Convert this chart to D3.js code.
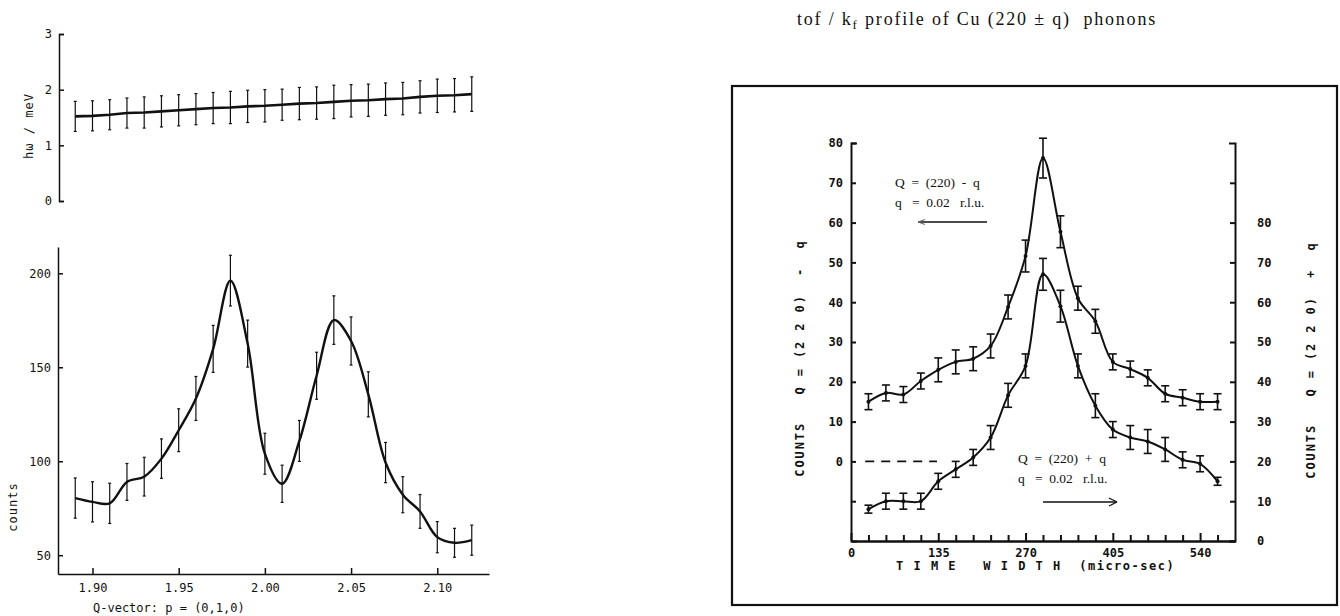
<!DOCTYPE html>
<html>
<head>
<meta charset="utf-8">
<script src="https://cdn.jsdelivr.net/npm/d3@7/dist/d3.min.js"></script>
<style>
  body { margin: 0; background: #fff; }
  svg text { font-family: "DejaVu Sans Mono", "Liberation Mono", monospace; fill: #111; }
  .serif { font-family: "Liberation Serif", "DejaVu Serif", serif !important; }
</style>
</head>
<body>
<svg id="chart" width="1340" height="616"></svg>
<script>
// ---- Q scan along (0,1,0): phonon energy and scattered counts ----
const qVector   = [1.89, 1.90, 1.91, 1.92, 1.93, 1.94, 1.95, 1.96, 1.97, 1.98, 1.99, 2.00,
                   2.01, 2.02, 2.03, 2.04, 2.05, 2.06, 2.07, 2.08, 2.09, 2.10, 2.11, 2.12];
const energyMeV = [1.52, 1.53, 1.55, 1.58, 1.59, 1.61, 1.63, 1.65, 1.67, 1.68, 1.70, 1.71,
                   1.73, 1.75, 1.76, 1.78, 1.80, 1.81, 1.83, 1.84, 1.87, 1.89, 1.90, 1.92];
const energyErr = [0.27, 0.27, 0.27, 0.27, 0.28, 0.28, 0.28, 0.28, 0.28, 0.29, 0.29, 0.29,
                   0.28, 0.29, 0.29, 0.30, 0.29, 0.29, 0.29, 0.29, 0.29, 0.30, 0.30, 0.31];
const counts    = [80.4, 78.4, 77.6, 89.0, 91.8, 101.4, 116.5, 133.4, 159.8, 196.1, 162.6, 104.0,
                   88.0, 110.8, 145.5, 175.1, 164.0, 135.6, 99.3, 82.2, 73.3, 59.6, 56.6, 58.0];
const countsErr = [10.7, 10.7, 10.7, 9.8, 10.3, 10.5, 11.4, 11.7, 12.5, 13.5, 12.5, 10.9,
                   9.9, 10.9, 12.5, 12.9, 12.8, 12.0, 10.7, 9.6, 9.0, 8.3, 7.7, 8.0];
const qTicks      = [1.90, 1.95, 2.00, 2.05, 2.10];
const energyTicks = [0, 1, 2, 3];
const countTicks  = [50, 100, 150, 200];

// ---- time-of-flight profile of Cu (220 ± q) phonons ----
const timeWidth   = [27, 54, 81, 108, 135, 162, 189, 216, 243, 270, 297, 324, 351, 378,
                     405, 432, 459, 486, 513, 540, 567];
const countsMinus = [15, 17.2, 16.8, 20.2, 23, 25, 25.8, 29, 38.8, 51.6, 76.2, 57.7, 41, 35.2,
                     25, 23.2, 21, 17, 16, 15, 15];
const errMinus    = [2, 2, 2, 2, 3, 3, 3, 3, 3, 4, 5, 4, 3, 3, 2, 2, 2, 2, 2, 2, 2];
const countsPlus  = [8, 10, 10, 10, 15, 18, 21, 26, 36.6, 44, 67, 59, 44, 34,
                     28, 26, 25, 23, 20.4, 19.4, 15];
const errPlus     = [1, 2, 2, 2, 2, 2, 2, 3, 3, 3, 4, 4, 3, 3, 2, 3, 3, 3, 2, 2, 1];
const timeMajorTicks  = [0, 135, 270, 405, 540];
const timeMinorTicks  = [27, 54, 81, 108, 162, 189, 216, 243, 297, 324, 351, 378,
                         432, 459, 486, 513, 567];
const minusAxisTicks  = [-10, 0, 10, 20, 30, 40, 50, 60, 70, 80];
const plusAxisTicks   = [0, 10, 20, 30, 40, 50, 60, 70, 80, 90];

const svg = d3.select("#chart");
const ink = "#111";

function styleAxis(g, width, size, weight) {
  g.select(".domain").attr("stroke", ink).attr("stroke-width", width);
  g.selectAll(".tick line").attr("stroke", ink).attr("stroke-width", width);
  g.selectAll(".tick text")
    .attr("font-family", "DejaVu Sans Mono, monospace")
    .attr("font-size", size).attr("font-weight", weight || "normal").attr("fill", ink);
  g.attr("font-family", null);
}

function errorBars(g, xs, ys, errs, xScale, yScale, cap, width) {
  const grp = g.append("g").attr("stroke", ink).attr("stroke-width", width).attr("fill", "none");
  xs.forEach((x, i) => {
    const px = xScale(x), y0 = yScale(ys[i] - errs[i]), y1 = yScale(ys[i] + errs[i]);
    grp.append("line").attr("x1", px).attr("x2", px).attr("y1", y0).attr("y2", y1);
    grp.append("line").attr("x1", px - cap).attr("x2", px + cap).attr("y1", y0).attr("y2", y0);
    grp.append("line").attr("x1", px - cap).attr("x2", px + cap).attr("y1", y1).attr("y2", y1);
  });
}

// ================= left figure =================
const xQ = d3.scaleLinear().domain([1.88, 2.13]).range([58, 489]);
const yE = d3.scaleLinear().domain([0, 3]).range([201, 34]);
const yC = d3.scaleLinear().domain([40, 214]).range([574, 247]);

const left = svg.append("g");

// energy panel
left.append("g").attr("transform", "translate(59,0)")
  .call(d3.axisLeft(yE).tickValues(energyTicks).tickFormat(d3.format("d"))
        .tickSizeInner(-5).tickSizeOuter(-5).tickPadding(7))
  .call(g => styleAxis(g, 1.5, 12));

errorBars(left, qVector, energyMeV, energyErr, xQ, yE, 1.5, 1.2);
left.append("path")
  .datum(qVector.map((q, i) => [q, energyMeV[i]]))
  .attr("fill", "none").attr("stroke", ink).attr("stroke-width", 2.6)
  .attr("d", d3.line().x(d => xQ(d[0])).y(d => yE(d[1])));

left.append("text").attr("transform", "translate(33,126) rotate(-90)")
  .attr("text-anchor", "middle").attr("font-size", 12).attr("letter-spacing", 1)
  .text("hω / meV");

// counts panel
left.append("g").attr("transform", "translate(58,0)")
  .call(d3.axisLeft(yC).tickValues(countTicks).tickFormat(d3.format("d"))
        .tickSizeInner(-5).tickSizeOuter(0).tickPadding(7))
  .call(g => styleAxis(g, 1.5, 12));
left.append("g").attr("transform", "translate(0,574)")
  .call(d3.axisBottom(xQ).tickValues(qTicks).tickFormat(d3.format(".2f"))
        .tickSizeInner(-6).tickSizeOuter(0).tickPadding(9))
  .call(g => styleAxis(g, 1.5, 12));

errorBars(left, qVector, counts, countsErr, xQ, yC, 1.5, 1.2);
left.append("path")
  .datum(qVector.map((q, i) => [q, counts[i]]))
  .attr("fill", "none").attr("stroke", ink).attr("stroke-width", 2.4)
  .attr("d", d3.line().curve(d3.curveCatmullRom.alpha(0.5))
        .x(d => xQ(d[0])).y(d => yC(d[1])));

left.append("text").attr("transform", "translate(17,507) rotate(-90)")
  .attr("text-anchor", "middle").attr("font-size", 12).attr("letter-spacing", 1)
  .text("counts");
left.append("text").attr("x", 93).attr("y", 612).attr("font-size", 12)
  .text("Q-vector: p = (0,1,0)");

// ================= right figure =================
const right = svg.append("g");

right.append("text").attr("class", "serif")
  .attr("x", 977).attr("y", 25).attr("text-anchor", "middle").attr("font-size", 18)
  .attr("letter-spacing", 1.8)
  .call(t => {
    t.append("tspan").text("tof / k");
    t.append("tspan").attr("font-size", 13).attr("dy", 4).text("f");
    t.append("tspan").attr("dy", -4).style("white-space", "pre")
      .text(" profile of Cu (220 ± q)  phonons");
  });

right.append("rect").attr("x", 732).attr("y", 86).attr("width", 605).attr("height", 519)
  .attr("fill", "none").attr("stroke", ink).attr("stroke-width", 2.2);

const xT = d3.scaleLinear().domain([0, 594]).range([851, 1235]);
const yL = d3.scaleLinear().domain([-20, 80]).range([541, 143]);
const yR = d3.scaleLinear().domain([0, 100]).range([541, 143]);

right.append("g").attr("transform", "translate(851,0)")
  .call(d3.axisLeft(yL).tickValues(minusAxisTicks).tickFormat(d => d < 0 ? "" : d)
        .tickSizeInner(-5).tickSizeOuter(-6).tickPadding(8))
  .call(g => styleAxis(g, 2, 12, "bold"));
right.append("g").attr("transform", "translate(1235,0)")
  .call(d3.axisRight(yR).tickValues(plusAxisTicks).tickFormat(d => d === 90 ? "" : d)
        .tickSizeInner(-5).tickSizeOuter(-6).tickPadding(22))
  .call(g => styleAxis(g, 2, 12, "bold"));
right.append("g").attr("transform", "translate(0,541)")
  .call(d3.axisBottom(xT).tickValues(timeMinorTicks).tickFormat("")
        .tickSizeInner(-6).tickSizeOuter(0))
  .call(g => styleAxis(g, 2, 12));
right.append("g").attr("transform", "translate(0,541)")
  .call(d3.axisBottom(xT).tickValues(timeMajorTicks).tickFormat(d3.format("d"))
        .tickSizeInner(-8).tickSizeOuter(0).tickPadding(7))
  .call(g => styleAxis(g, 2, 12, "bold"));

// zero level of the (220) - q scan
right.append("line")
  .attr("x1", xT(22)).attr("x2", xT(133)).attr("y1", yL(0)).attr("y2", yL(0))
  .attr("stroke", ink).attr("stroke-width", 1.6).attr("stroke-dasharray", "9,7");

const smooth = d3.curveCatmullRom.alpha(0.5);
[[countsMinus, errMinus, yL], [countsPlus, errPlus, yR]].forEach(([vals, errs, ys]) => {
  errorBars(right, timeWidth, vals, errs, xT, ys, 4, 1.6);
  right.append("path")
    .datum(timeWidth.map((t, i) => [t, vals[i]]))
    .attr("fill", "none").attr("stroke", ink).attr("stroke-width", 2)
    .attr("d", d3.line().curve(smooth).x(d => xT(d[0])).y(d => ys(d[1])));
  right.append("g").selectAll("circle").data(timeWidth).join("circle")
    .attr("cx", d => xT(d)).attr("cy", (d, i) => ys(vals[i])).attr("r", 2).attr("fill", ink);
});

// axis titles
right.append("text").attr("transform", "translate(804,358) rotate(-90)")
  .attr("text-anchor", "middle").attr("font-size", 12).attr("font-weight", "bold")
  .attr("letter-spacing", 1.9)
  .style("white-space", "pre").text("COUNTS   Q = (2 2 0)  -  q");
right.append("text").attr("transform", "translate(1315,360) rotate(-90)")
  .attr("text-anchor", "middle").attr("font-size", 12).attr("font-weight", "bold")
  .attr("letter-spacing", 1.9)
  .style("white-space", "pre").text("COUNTS   Q = (2 2 0)  +  q");
right.append("text").attr("x", 896).attr("y", 570).attr("font-size", 12)
  .attr("font-weight", "bold").attr("letter-spacing", 1.5).style("white-space", "pre")
  .text("T I M E   W I D T H  (micro-sec)");

// scan annotations
function note(x, y, lines) {
  lines.forEach((s, i) => right.append("text").attr("class", "serif")
    .attr("x", x).attr("y", y + i * 20).attr("font-size", 13.5)
    .style("white-space", "pre").text(s));
}
note(895, 187, ["Q  =  (220)  -  q", "q   =  0.02   r.l.u."]);
note(1018, 463, ["Q  =  (220)  +  q", "q   =  0.02   r.l.u."]);

right.append("line").attr("x1", 918).attr("x2", 987).attr("y1", 222).attr("y2", 222)
  .attr("stroke", ink).attr("stroke-width", 1.6);
right.append("path").attr("d", "M918,222 l7,-2.5 M918,222 l7,2.5")
  .attr("stroke", "#666").attr("stroke-width", 1).attr("fill", "none");
right.append("line").attr("x1", 1043).attr("x2", 1117).attr("y1", 502).attr("y2", 502)
  .attr("stroke", ink).attr("stroke-width", 1.6);
right.append("path").attr("d", "M1117,502 l-8,-4 M1117,502 l-8,4")
  .attr("stroke", ink).attr("stroke-width", 1.3).attr("fill", "none");
</script>
</body>
</html>
